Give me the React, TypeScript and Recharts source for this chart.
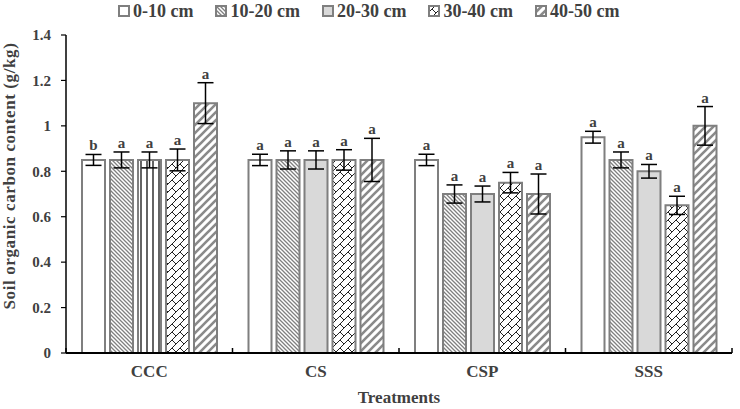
import { Bar, BarChart, Cell, ErrorBar, Label, LabelList, XAxis, YAxis } from "recharts";

const FONT = "'Liberation Serif', 'Times New Roman', serif";
const INK = "#404040";
const EDGE = "#7f7f7f";

const treatments = ["CCC", "CS", "CSP", "SSS"];
const depths = ["0-10 cm", "10-20 cm", "20-30 cm", "30-40 cm", "40-50 cm"];

// mean SOC (g/kg) per depth, one value per treatment
const soc0_10 = [0.85, 0.85, 0.85, 0.95];
const soc10_20 = [0.85, 0.85, 0.7, 0.85];
const soc20_30 = [0.85, 0.85, 0.7, 0.8];
const soc30_40 = [0.85, 0.85, 0.75, 0.65];
const soc40_50 = [1.1, 0.85, 0.7, 1.0];

// standard errors
const se0_10 = [0.024, 0.025, 0.025, 0.026];
const se10_20 = [0.035, 0.04, 0.04, 0.035];
const se20_30 = [0.035, 0.04, 0.035, 0.03];
const se30_40 = [0.048, 0.045, 0.045, 0.04];
const se40_50 = [0.09, 0.095, 0.088, 0.085];

// significance letters
const sig0_10 = ["b", "a", "a", "a"];
const sig10_20 = ["a", "a", "a", "a"];
const sig20_30 = ["a", "a", "a", "a"];
const sig30_40 = ["a", "a", "a", "a"];
const sig40_50 = ["a", "a", "a", "a"];

const yTicks = [0, 0.2, 0.4, 0.6, 0.8, 1, 1.2, 1.4];

const means = [soc0_10, soc10_20, soc20_30, soc30_40, soc40_50];
const errors = [se0_10, se10_20, se20_30, se30_40, se40_50];
const letters = [sig0_10, sig10_20, sig20_30, sig30_40, sig40_50];

const data = treatments.map((t, i) => {
  const row: Record<string, string | number> = { name: t };
  means.forEach((m, k) => {
    row[`v${k}`] = m[i];
    row[`e${k}`] = errors[k][i];
    row[`l${k}`] = letters[k][i];
  });
  return row;
});

const fills = ["#ffffff", "url(#hatchBack)", "#d9d9d9", "url(#brick)", "url(#hatchWide)"];

const CHART_W = 740;
const CHART_H = 409;
const M = { top: 35, right: 8, bottom: 26, left: 0 };
const Y_W = 66;
const BAND = (CHART_W - M.left - M.right - Y_W) / treatments.length;

function Patterns() {
  return (
    <defs>
      <pattern id="hatchBack" patternUnits="userSpaceOnUse" width="4" height="4">
        <rect width="4" height="4" fill="#fff" />
        <path d="M0,0 L4,4 M-1,3 L1,5 M3,-1 L5,1" stroke="#808080" strokeWidth="1.3" />
      </pattern>
      <pattern id="hatchWide" patternUnits="userSpaceOnUse" width="8" height="8">
        <rect width="8" height="8" fill="#fff" />
        <path d="M0,8 L8,0 M-2,2 L2,-2 M6,10 L10,6" stroke="#8a8a8a" strokeWidth="2.6" />
      </pattern>
      <pattern id="brick" patternUnits="userSpaceOnUse" width="8" height="8">
        <rect width="8" height="8" fill="#fff" />
        <path d="M0,8 L8,0 M4,4 L8,8 M-1,1 L1,-1 M7,9 L9,7" stroke="#222" strokeWidth="1" fill="none" />
      </pattern>
      <pattern id="vlines" patternUnits="userSpaceOnUse" width="6" height="6">
        <rect width="6" height="6" fill="#fff" />
        <path d="M3,0 L3,6" stroke="#222" strokeWidth="1.4" />
      </pattern>
    </defs>
  );
}

const letterLabel = (k: number) => (props: any) => {
  const { x, y, width, height, value, index } = props;
  const v = means[k][index];
  const e = errors[k][index];
  const up = v ? (e / v) * height : 0;
  return (
    <text
      x={x + width / 2}
      y={y - up - 4}
      textAnchor="middle"
      fontFamily={FONT}
      fontWeight="bold"
      fontSize={15}
      fill={INK}
    >
      {value}
    </text>
  );
};

function CategoryTick(props: any) {
  const { x, y, payload, index } = props;
  const base = y - 8;
  return (
    <g>
      <line x1={x - BAND / 2} x2={x - BAND / 2} y1={base} y2={base - 5} stroke="#000" strokeWidth={1.5} />
      {index === treatments.length - 1 && (
        <line x1={x + BAND / 2} x2={x + BAND / 2} y1={base} y2={base - 5} stroke="#000" strokeWidth={1.5} />
      )}
      <text x={x} y={base + 24} textAnchor="middle" fontFamily={FONT} fontWeight="bold" fontSize={17} fill={INK}>
        {payload.value}
      </text>
    </g>
  );
}

function Swatch({ fill }: { fill: string }) {
  return (
    <svg width="12" height="12" style={{ marginRight: 3 }}>
      <rect x="1" y="1" width="10" height="10" fill={fill} stroke={EDGE} strokeWidth="2" />
    </svg>
  );
}

export default function App() {
  return (
    <div style={{ position: "absolute", left: 0, top: 0, width: CHART_W, height: CHART_H, background: "#fff" }}>
      <div
        style={{
          position: "absolute",
          left: 118,
          top: 0,
          height: 22,
          display: "flex",
          alignItems: "center",
          gap: 22,
          fontFamily: FONT,
          fontWeight: "bold",
          fontSize: 18,
          color: INK,
          zIndex: 1,
        }}
      >
        {depths.map((d, k) => (
          <div key={d} style={{ display: "flex", alignItems: "center" }}>
            <Swatch fill={fills[k]} />
            <span>{d}</span>
          </div>
        ))}
      </div>
      <BarChart width={CHART_W} height={CHART_H} data={data} margin={M} barCategoryGap={16} barGap={5}>
        <Patterns />
        <XAxis
          dataKey="name"
          height={30}
          axisLine={{ stroke: "#000", strokeWidth: 2 }}
          tickLine={false}
          tick={<CategoryTick />}
          interval={0}
        >
          <Label
            content={() => (
              <text x={399} y={403} textAnchor="middle" fontFamily={FONT} fontWeight="bold" fontSize={17} fill={INK}>
                Treatments
              </text>
            )}
          />
        </XAxis>
        <YAxis
          width={Y_W}
          domain={[0, 1.4]}
          ticks={yTicks}
          interval={0}
          axisLine={{ stroke: "#000", strokeWidth: 1.5 }}
          tickLine={{ stroke: "#000", strokeWidth: 1.2 }}
          tickSize={5}
          tickMargin={10}
          tick={{ fontFamily: FONT, fontWeight: "bold", fontSize: 15, fill: INK }}
        >
          <Label
            content={() => (
              <text
                x={0}
                y={0}
                transform="translate(15,176) rotate(-90)"
                textAnchor="middle"
                fontFamily={FONT}
                fontWeight="bold"
                fontSize={17}
                letterSpacing={0.6}
                fill={INK}
              >
                Soil organic carbon content (g/kg)
              </text>
            )}
          />
        </YAxis>
        {depths.map((d, k) => (
          <Bar
            key={d}
            dataKey={`v${k}`}
            name={d}
            fill={fills[k]}
            stroke={EDGE}
            strokeWidth={2}
            isAnimationActive={false}
          >
            {k === 2 &&
              treatments.map((t, i) => <Cell key={t} fill={i === 0 ? "url(#vlines)" : fills[k]} />)}
            <ErrorBar dataKey={`e${k}`} width={8} stroke="#000" strokeWidth={1.5} />
            <LabelList dataKey={`l${k}`} content={letterLabel(k)} />
          </Bar>
        ))}
      </BarChart>
    </div>
  );
}
